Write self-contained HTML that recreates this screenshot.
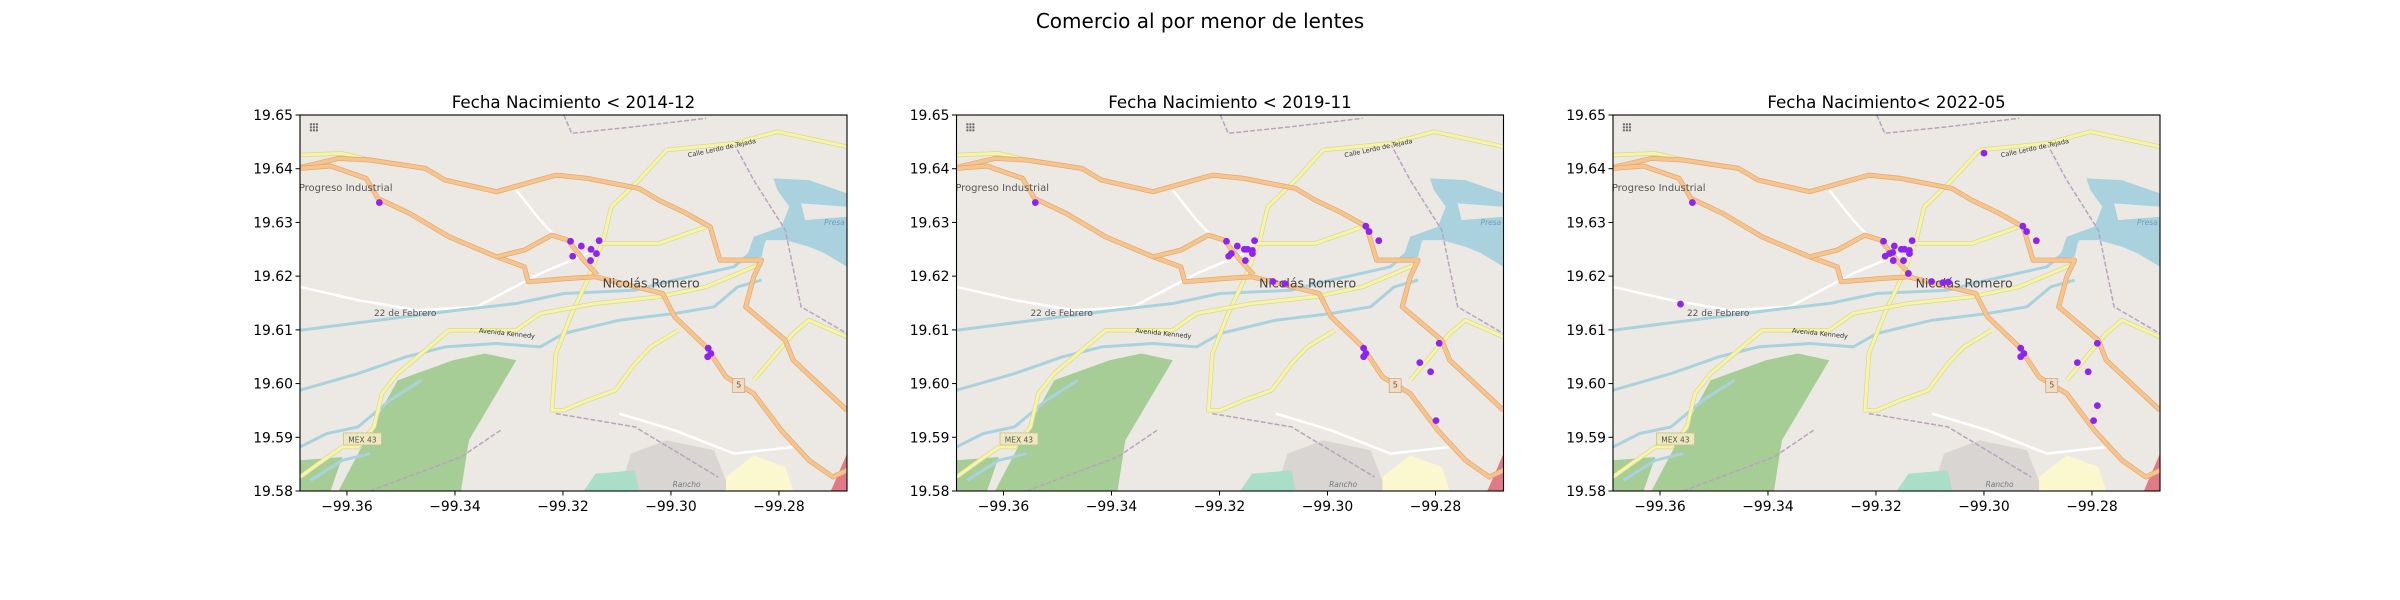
<!DOCTYPE html>
<html><head><meta charset="utf-8"><style>
html,body{margin:0;padding:0;background:#fff;}
svg{display:block;font-family:"DejaVu Sans","Liberation Sans",sans-serif;}
</style></head><body>
<svg id="fig" width="2400" height="600" viewBox="0 0 2400 600" xmlns="http://www.w3.org/2000/svg">
<rect width="2400" height="600" fill="#fff"/>
<text x="1200" y="28" text-anchor="middle" font-size="20" fill="#000">Comercio al por menor de lentes</text>
</svg>
<script>
// ---- data ----
const panelTitles = ["Fecha Nacimiento < 2014-12","Fecha Nacimiento < 2019-11","Fecha Nacimiento< 2022-05"];
const xTicks = [-99.36,-99.34,-99.32,-99.30,-99.28];
const xTickLabels = ["\u221299.36","\u221299.34","\u221299.32","\u221299.30","\u221299.28"];
const yTicks = [19.65,19.64,19.63,19.62,19.61,19.60,19.59,19.58];
const yTickLabels = ["19.65","19.64","19.63","19.62","19.61","19.60","19.59","19.58"];
const lon1 = [-99.3540,-99.3186,-99.3166,-99.3133,-99.3148,-99.3138,-99.3182,-99.3149,-99.2931,-99.2926,-99.2932];
const lat1 = [19.6337,19.6265,19.6256,19.6266,19.6250,19.6242,19.6237,19.6229,19.6066,19.6056,19.6050];
const lon2 = [-99.3541,-99.3187,-99.3167,-99.3135,-99.3154,-99.3148,-99.3139,-99.3139,-99.3178,-99.3183,-99.3152,-99.3101,-99.3079,-99.2929,-99.2923,-99.2905,-99.2933,-99.2929,-99.2933,-99.2793,-99.2829,-99.2809,-99.2799];
const lat2 = [19.6337,19.6265,19.6256,19.6266,19.6250,19.6250,19.6248,19.6242,19.6242,19.6237,19.6229,19.6190,19.6186,19.6293,19.6283,19.6266,19.6066,19.6056,19.6050,19.6075,19.6039,19.6022,19.5931];
const lon3 = [-99.3000,-99.3540,-99.3562,-99.3186,-99.3166,-99.3133,-99.3153,-99.3147,-99.3138,-99.3138,-99.3175,-99.3169,-99.3183,-99.3168,-99.3149,-99.3140,-99.3097,-99.3076,-99.3066,-99.2928,-99.2921,-99.2903,-99.2932,-99.2926,-99.2932,-99.2790,-99.2827,-99.2807,-99.2790,-99.2797];
const lat3 = [19.6429,19.6337,19.6148,19.6265,19.6256,19.6266,19.6250,19.6250,19.6248,19.6242,19.6242,19.6244,19.6237,19.6229,19.6229,19.6205,19.6190,19.6188,19.6189,19.6293,19.6283,19.6266,19.6066,19.6056,19.6050,19.6075,19.6039,19.6022,19.5959,19.5931];
const lons = [lon1,lon2,lon3];
const lats = [lat1,lat2,lat3];
const xlim = [-99.3687,-99.2674];
const ylim = [19.58,19.65];

const NS="http://www.w3.org/2000/svg";
const fig=document.getElementById('fig');
function mk(tag,attrs,parent){const e=document.createElementNS(NS,tag);for(const k in attrs)e.setAttribute(k,attrs[k]);(parent||fig).appendChild(e);return e;}

const axLeft=[300,956.5,1613];
const AW=547, AT=115, AH=376;

const orange1=[[153,262],[250,235],[330,240],[470,265],[520,300],[650,335],[800,285],[880,295],[1010,325],[1060,360],[1130,400],[1190,440],[1215,540],[1320,540],[1300,590],[1280,680],[1380,780],[1400,840],[1536,990]];
const orange2=[[153,265],[230,258],[320,295],[350,355],[430,400],[530,470],[650,530],[720,560],[730,605],[830,595],[900,590],[1070,640],[1100,710],[1180,800],[1230,890],[1300,940],[1370,1050],[1440,1140],[1500,1190],[1536,1170]];
const orange3=[[650,530],[720,510],[790,465],[830,480],[870,540],[905,585]];
const yellowRoads=[
 [[1080,210],[1250,190],[1360,155],[1536,200]],
 [[1080,210],[1010,300],[940,380],[920,480],[880,600],[840,700],[800,820],[790,990],[820,990],[880,960],[950,930],[1000,850],[1040,800],[1110,750]],
 [[910,490],[1060,490],[1180,440]],
 [[760,700],[900,670],[1060,650],[1180,620],[1320,550]],
 [[760,700],[700,750],[530,750],[400,880],[360,940],[340,1040],[300,1100],[260,1100],[200,1150],[153,1190]],
 [[1300,900],[1400,760],[1440,720],[1536,770]],
 [[153,225],[260,220],[330,240]]];
const rivers=[
 [[153,930],[300,880],[420,830],[520,800],[650,790],[760,800],[820,760],[960,720],[1100,700],[1200,680],[1260,620],[1320,600]],
 [[153,750],[350,720],[550,690],[700,670],[820,640],[1000,630],[1100,600],[1250,560],[1330,480]],
 [[153,1100],[220,1060],[300,1040],[380,960],[460,900]],
 [[180,1200],[260,1140],[330,1120]]];
const whiteRoads=[[[153,620],[300,660],[450,690],[600,680],[760,580],[880,520]],[[700,330],[760,420],[800,470]],[[960,1000],[1100,1050],[1250,1120],[1400,1100]]];
const admin=[[[820,105],[840,160],[1000,140],[1180,115]],[[1250,190],[1300,300],[1380,450],[1420,680],[1536,760]],[[800,1000],[1000,1040],[1210,1190]],[[330,1232],[560,1130],[660,1050]]];
const park=[[330,1050],[400,900],[540,840],[620,820],[700,840],[620,1000],[580,1080],[560,1232],[250,1232],[300,1120]];
const park2=[[153,1140],[260,1130],[230,1232],[153,1232]];
const lake=[[1350,295],[1440,300],[1536,340],[1536,380],[1420,370],[1430,420],[1536,410],[1536,560],[1480,520],[1440,500],[1380,480],[1330,480],[1320,530],[1280,540],[1300,470],[1370,440],[1390,380],[1360,330]];
const resid=[[960,1232],[990,1120],[1080,1080],[1200,1110],[1240,1232]];
const lyellow=[[1230,1190],[1300,1125],[1380,1160],[1400,1232],[1230,1232]];
const redArea=[[1495,1232],[1536,1120],[1536,1232]];
const mint=[[870,1232],[900,1180],[1000,1170],[1010,1232]];

for(let p=0;p<3;p++){
  const x0=axLeft[p];
  const sx=v=>x0+(v-xlim[0])/(xlim[1]-xlim[0])*AW;
  const sy=v=>AT+(ylim[1]-v)/(ylim[1]-ylim[0])*AH;
  const cx=v=>x0+(v-153)*AW/1383, cy=v=>AT+(v-105)*AH/1127;
  const pts=a=>a.map(q=>cx(q[0]).toFixed(1)+","+cy(q[1]).toFixed(1)).join(" ");
  const g=mk('g',{});
  
  
  const clipId='clip'+p;
  const cp=mk('clipPath',{id:clipId},g);mk('rect',{x:x0,y:AT,width:AW,height:AH},cp);
  const m=mk('g',{'clip-path':'url(#'+clipId+')'},g);
  
  
  mk('rect',{x:x0,y:AT,width:AW,height:AH,fill:'#ece9e4'},m);
  mk('polygon',{points:pts(resid),fill:'#d8d5d2'},m);
  mk('polygon',{points:pts(lyellow),fill:'#fbf7cf'},m);
  mk('polygon',{points:pts(mint),fill:'#a9dfc8'},m);
  mk('polygon',{points:pts(park),fill:'#a6cd96'},m);
  mk('polygon',{points:pts(park2),fill:'#a6cd96'},m);
  mk('polygon',{points:pts(lake),fill:'#a9d2de'},m);
  mk('polygon',{points:pts(redArea),fill:'#e07a85'},m);
  whiteRoads.forEach(r=>mk('polyline',{points:pts(r),fill:'none',stroke:'#fff',"stroke-width":2.5},m));
  rivers.forEach(r=>mk('polyline',{points:pts(r),fill:'none',stroke:'#a9d2de',"stroke-width":3,"stroke-linejoin":"round"},m));
  admin.forEach(r=>mk('polyline',{points:pts(r),fill:'none',stroke:'#b9a3bd',"stroke-width":1.5,"stroke-dasharray":"5 2"},m));
  yellowRoads.forEach(r=>{mk('polyline',{points:pts(r),fill:'none',stroke:'#d9d79a',"stroke-width":4.5,"stroke-linejoin":"round"},m);mk('polyline',{points:pts(r),fill:'none',stroke:'#f6f5a6',"stroke-width":3,"stroke-linejoin":"round"},m);});
  [orange1,orange2,orange3].forEach(r=>{mk('polyline',{points:pts(r),fill:'none',stroke:'#e0a970',"stroke-width":5,"stroke-linejoin":"round"},m);mk('polyline',{points:pts(r),fill:'none',stroke:'#f6c48c',"stroke-width":3.6,"stroke-linejoin":"round"},m);});
  const lbl=(t,zx,zy,fs,col,extra)=>{const e=mk('text',Object.assign({x:cx(zx),y:cy(zy),'font-size':fs,fill:col},extra||{}),m);e.textContent=t;return e;};
  lbl('Progreso Industrial',150,333,10,'#555');
  lbl('Nicolás Romero',918,622,12.5,'#444');
  lbl('22 de Febrero',340,708,9,'#555');
  lbl('Avenida Kennedy',605,757,6.5,'#333',{transform:'rotate(6 '+cx(605)+' '+cy(757)+')'});
  lbl('Calle Lerdo de Tejada',1135,232,6.5,'#333',{transform:'rotate(-12 '+cx(1135)+' '+cy(232)+')'});
  lbl('Presa',1478,435,7.5,'#6a9ec4',{'font-style':'italic'});
  lbl('Rancho',1095,1220,7.5,'#777',{'font-style':'italic'});
  mk('rect',{x:cx(263),y:cy(1058),width:38,height:12,fill:'#eee8c0',stroke:'#c9c08a','stroke-width':0.8},m);
  lbl('MEX 43',275,1087,7.5,'#555');
  mk('rect',{x:cx(1247),y:cy(895),width:12,height:14,fill:'#f2dcc2',stroke:'#c9a98a','stroke-width':0.8},m);
  lbl('5',1256,922,8,'#555');
  for(let i=0;i<3;i++)for(let j=0;j<3;j++)mk('rect',{x:cx(178)+i*3,y:cy(130)+j*3,width:2,height:2,fill:'#666'},m);
  const L=lons[p],A=lats[p];
  for(let i=0;i<L.length;i++){
    const c=mk('circle',{cx:sx(L[i]),cy:sy(A[i]),r:3.4,fill:'#8e24f2'},g);
    
    
  }
  const sp=mk('rect',{x:x0,y:AT,width:AW,height:AH,fill:'none',stroke:'#000','stroke-width':1.1},g);
  
  
  xTicks.forEach((v,i)=>{
    const X=sx(v);
    mk('line',{x1:X,y1:AT+AH,x2:X,y2:AT+AH+4.5,stroke:'#000','stroke-width':1},g);
    const t=mk('text',{x:X,y:AT+AH+20,'text-anchor':'middle','font-size':13.9,fill:'#000'},g);
    t.textContent=xTickLabels[i];
    
    
  });
  yTicks.forEach((v,i)=>{
    const Y=sy(v);
    mk('line',{x1:x0-4.5,y1:Y,x2:x0,y2:Y,stroke:'#000','stroke-width':1},g);
    const t=mk('text',{x:x0-7,y:Y+5,'text-anchor':'end','font-size':13.9,fill:'#000'},g);
    t.textContent=yTickLabels[i];
    
    
  });
  const tt=mk('text',{x:x0+AW/2,y:AT-7,'text-anchor':'middle','font-size':16.7,fill:'#000'},g);
  tt.textContent=panelTitles[p];
  
  
}
</script>
</body></html>
